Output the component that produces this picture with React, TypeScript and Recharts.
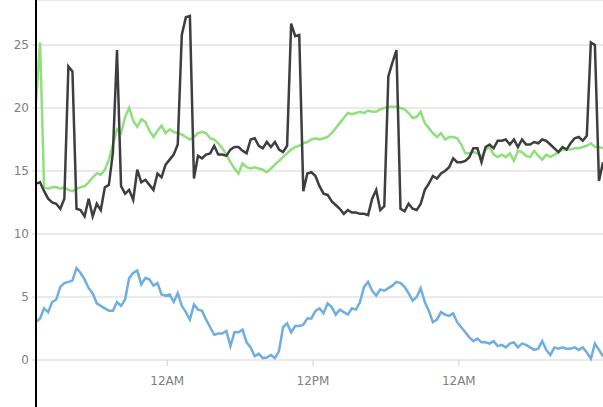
import React from 'react';
import { LineChart, Line, XAxis, YAxis, CartesianGrid } from 'recharts';

// readings every 20 minutes, starting 13:12 on day one
const START_MINUTE = 792;
const STEP_MINUTES = 20;

const darkSeries = [
  14.0, 14.1, 13.4, 12.8, 12.5, 12.4, 12.0, 12.8, 23.3, 22.9,
  12.0, 11.9, 11.4, 12.8, 11.4, 12.4, 11.9, 13.7, 13.9, 16.5,
  24.6, 13.8, 13.2, 13.5, 12.7, 15.1, 14.1, 14.3, 13.9, 13.5,
  14.8, 14.5, 15.5, 15.9, 16.3, 17.1, 25.8, 27.2, 27.3, 14.4,
  16.2, 16.0, 16.3, 16.4, 17.0, 16.3, 16.3, 16.2, 16.7, 16.9,
  16.9, 16.6, 16.4, 17.5, 17.6, 17.0, 16.8, 17.3, 16.9, 17.3,
  16.7, 16.5, 17.0, 26.7, 25.7, 25.8, 13.4, 14.8, 14.9, 14.6,
  13.8, 13.2, 13.1, 12.6, 12.3, 12.0, 11.6, 11.9, 11.7, 11.7,
  11.6, 11.6, 11.5, 12.8, 13.5, 11.9, 12.2, 22.5, 23.6, 24.6,
  12.0, 11.8, 12.4, 12.0, 11.9, 12.4, 13.5, 14.0, 14.6, 14.4,
  14.8, 15.0, 15.3, 16.0, 15.7, 15.7, 15.8, 16.1, 16.8, 16.8,
  15.7, 16.9, 17.1, 16.8, 17.4, 17.4, 17.5, 17.1, 17.5, 16.9,
  17.5, 17.1, 17.1, 17.3, 17.2, 17.5, 17.4, 17.1, 16.8, 16.5,
  16.9, 16.7, 17.2, 17.6, 17.7, 17.4, 17.8, 25.2, 25.0, 14.2,
  15.7,
];

const greenSeries = [
  20.4, 25.2, 13.7, 13.6, 13.7, 13.7, 13.6, 13.7, 13.5, 13.4,
  13.6, 13.7, 13.8, 14.1, 14.5, 14.8, 14.7, 15.1, 15.9, 17.1,
  18.3, 18.0, 19.3, 20.0, 19.0, 18.5, 19.1, 18.9, 18.2, 17.7,
  18.2, 18.6, 18.0, 18.3, 18.1, 18.0, 17.9, 17.7, 17.5, 17.7,
  18.0, 18.1, 18.0, 17.6, 17.5, 17.2, 16.8, 16.3, 15.7, 15.2,
  14.8, 15.6, 15.3, 15.2, 15.3, 15.2, 15.1, 14.9, 15.2, 15.5,
  15.8, 16.1, 16.4, 16.7, 16.9, 17.0, 17.2, 17.3, 17.5, 17.6,
  17.5, 17.6, 17.7, 18.0, 18.4, 18.8, 19.2, 19.6, 19.5, 19.6,
  19.7, 19.6, 19.8, 19.7, 19.7, 19.9, 20.0, 20.1, 20.1, 20.1,
  20.0, 19.9, 19.6, 19.2, 19.3, 19.7, 18.8, 18.4, 18.0, 17.7,
  18.0, 17.5, 17.7, 17.7, 17.6, 17.1, 16.4, 16.4, 16.5, 16.4,
  16.1, 16.7, 16.9, 16.3, 16.1, 16.3, 16.1, 16.4, 15.8, 16.6,
  16.5, 16.2, 16.1, 16.6, 16.2, 15.9, 16.3, 16.1, 16.3, 16.5,
  16.7, 16.7, 16.7, 16.8, 16.8, 16.9, 17.0, 17.2, 16.9, 16.9,
  16.8,
];

const blueSeries = [
  3.0, 3.3, 4.1, 3.8, 4.6, 4.8, 5.8, 6.1, 6.2, 6.3,
  7.3, 6.9, 6.4, 5.7, 5.3, 4.5, 4.3, 4.1, 3.9, 3.9,
  4.6, 4.3, 4.8, 6.5, 6.9, 7.1, 6.0, 6.5, 6.4, 5.9,
  6.1, 5.2, 5.1, 5.2, 4.6, 5.3, 4.3, 3.8, 3.2, 4.4,
  4.0, 3.9, 3.2, 2.6, 2.0, 2.1, 2.1, 2.3, 1.1, 2.2,
  2.2, 2.4, 1.4, 1.0, 0.3, 0.5, 0.15, 0.2, 0.4, 0.15,
  0.7, 2.6, 2.9, 2.2, 2.7, 2.7, 2.8, 3.3, 3.3, 3.9,
  4.1, 3.7, 4.5, 4.2, 3.6, 4.0, 3.8, 3.6, 4.1, 4.0,
  4.6, 5.8, 6.2, 5.5, 5.1, 5.6, 5.5, 5.7, 5.9, 6.2,
  6.1, 5.8, 5.3, 4.7, 5.0, 5.7, 4.6, 3.9, 3.0, 3.2,
  3.8, 3.6, 3.5, 3.7, 3.0, 2.6, 2.2, 1.8, 1.5, 1.7,
  1.4, 1.4, 1.3, 1.5, 1.1, 1.2, 1.0, 1.3, 1.4, 1.0,
  1.3, 1.2, 1.0, 0.8, 0.9, 1.5, 0.8, 0.4, 1.0, 0.9,
  1.0, 0.9, 0.9, 1.0, 0.8, 1.0, 0.6, 0.1, 1.3, 0.8,
  0.3,
];

const timeTicks = [1440, 2160, 2880];
const timeLabels = ['12AM', '12PM', '12AM'];
const valueTicks = [0, 5, 10, 15, 20, 25];

const chartData = darkSeries.map((dark, i) => ({
  minute: START_MINUTE + i * STEP_MINUTES,
  dark,
  green: greenSeries[i],
  blue: blueSeries[i],
}));

const tickStyle = { fontFamily: 'DejaVu Sans, sans-serif', fontSize: 12, fill: '#808080' };

export default function App() {
  return (
    <div style={{ position: 'absolute', left: 0, top: 0, width: 603, height: 407, background: '#fff' }}>
      <LineChart width={603} height={407} data={chartData} margin={{ top: 0, right: 0, bottom: 0, left: 0 }}>
        <CartesianGrid horizontal vertical={false} stroke="#e3e3e3" strokeWidth={1.5} />
        <XAxis
          dataKey="minute"
          type="number"
          domain={['dataMin', 'dataMax']}
          ticks={timeTicks}
          tickFormatter={(v) => timeLabels[timeTicks.indexOf(v)] ?? ''}
          axisLine={false}
          tickLine={{ stroke: '#d0d0d0' }}
          tickSize={6}
          tickMargin={10}
          height={47}
          tick={tickStyle}
        />
        <YAxis
          domain={[0, 28.57]}
          ticks={valueTicks}
          width={36}
          axisLine={false}
          tickLine={{ stroke: '#d0d0d0' }}
          tickSize={4}
          tickMargin={3}
          tick={tickStyle}
        />
        <Line type="linear" dataKey="green" stroke="#8fe07c" strokeWidth={2.5} dot={false} isAnimationActive={false} />
        <Line type="linear" dataKey="dark" stroke="#3e3e42" strokeWidth={2.5} dot={false} isAnimationActive={false} />
        <Line type="linear" dataKey="blue" stroke="#6eaee3" strokeWidth={2.5} dot={false} isAnimationActive={false} />
      </LineChart>
      <div style={{ position: 'absolute', left: 35, top: 0, width: 2, height: 407, background: '#000' }} />
    </div>
  );
}
